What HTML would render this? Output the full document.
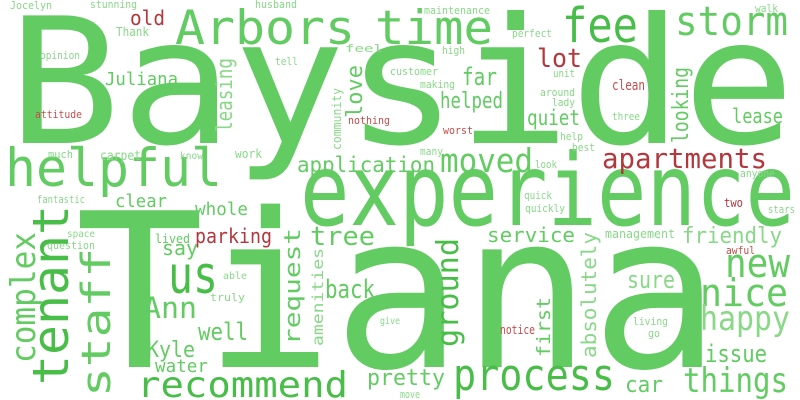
<!DOCTYPE html>
<html><head><meta charset="utf-8">
<style>
html,body{margin:0;padding:0;background:#fff;}
svg{display:block;}
text{font-family:"DejaVu Sans Mono","Liberation Mono",monospace;}
</style></head>
<body>
<svg id="cloud" width="800" height="400" viewBox="0 0 800 400" xmlns="http://www.w3.org/2000/svg">
<rect width="800" height="400" fill="#ffffff"/>
</svg>
<script>
// word cloud data: words and their font sizes (weight)
const words = ["Bayside","Tiana","experience","Arbors","time","fee","storm","helpful","tenant","complex","staff","us","Ann","Juliana","old","Thank","Jocelyn","stunning","husband","opinion","attitude","leasing","love","community","feel","tell","customer","nothing","much","carpet","know","work","application","fantastic","clear","moved","apartments","lot","far","helped","quiet","looking","lease","clean","maintenance","perfect","high","unit","making","around","lady","three","worst","help","best","many","look","walk","anyone","quick","quickly","two","stars","service","management","friendly","awful","new","nice","happy","issue","things","sure","ground","first","absolutely","living","go","notice","process","car","move","pretty","recommend","parking","whole","lived","say","tree","request","amenities","back","space","question","able","truly","give","well","Kyle","water"];
const sizes = [175,215,100,47,47,48,40,53,50,34,40,52,29,18,20,12,11,11,11,11,11,22,22,12,11,11,11,11,11,13,10,12,21,11,18,33,28,26,24,22,21,22,20,14,11,11,11,11,11,11,11,11,11,11,11,11,11,11,11,11,11,12,11,20,12,22,11,40,38,34,24,34,24,30,19,20,11,11,12,44,22,11,22,36,20,18,12,20,26,22,15,26,10,11,10,11,10,24,22,18];
// layout: [x, baselineY, width, rotated(0/1), colorIndex]
const layout = [
[8,143,787,0,0],[75,367,645,0,0],[300,225,495,0,0],[175,44,180,0,0],[375,44,118,0,0],[562,42,76,0,1],[675,35,113,0,0],[5,186,217,0,0],[68,385,180,1,1],[35,363,131,1,0],[110,397,149,1,0],[168,293,50,0,1],[143,318,54,0,0],[105,85,73,0,0],[130,25,35,0,3],[116,36,33,0,2],[10,9,42,0,2],[90,8,47,0,2],[255,8,42,0,2],[40,59,40,0,2],[35,118,47,0,4],[232,132,74,1,2],[362,118,53,1,0],[341,150,62,1,2],[345,52,38,0,2],[275,65,23,0,2],[390,75,48,0,2],[348,124,42,0,4],[48,158,25,0,2],[100,160,41,0,2],[180,159,23,0,2],[235,158,27,0,2],[297,172,138,0,0],[37,203,48,0,2],[115,207,52,0,0],[440,172,93,0,0],[602,168,165,0,3],[537,67,45,0,3],[462,85,35,0,0],[440,108,63,0,0],[527,125,53,0,0],[688,143,76,1,0],[732,123,51,0,0],[612,90,33,0,4],[424,14,66,0,2],[512,37,40,0,2],[442,54,23,0,2],[553,77,22,0,2],[420,88,35,0,2],[540,96,35,0,2],[552,106,23,0,2],[612,120,28,0,2],[443,134,30,0,4],[560,140,23,0,2],[572,151,23,0,2],[420,155,23,0,2],[535,168,22,0,2],[755,12,23,0,2],[740,177,35,0,2],[524,199,28,0,2],
[525,212,40,0,2],[724,207,19,0,3],[768,213,27,0,2],[487,242,88,0,0],[605,238,70,0,2],[682,243,100,0,2],[726,254,29,0,4],[725,277,65,0,0],[700,306,88,0,0],[700,330,90,0,2],[705,362,62,0,0],[683,392,105,0,0],[627,288,48,0,2],[458,347,109,1,1],[550,357,60,1,0],[596,358,126,1,2],[633,325,35,0,2],[648,337,12,0,2],[500,334,35,0,4],[453,390,162,0,1],[625,392,38,0,0],[400,398,20,0,2],[367,385,78,0,0],[137,397,211,0,1],[195,243,77,0,3],[195,215,53,0,0],[155,243,35,0,0],[162,255,36,0,0],[310,245,65,0,0],[300,345,117,1,0],[323,346,98,1,2],[325,298,50,0,0],[67,237,28,0,2],[47,249,48,0,2],[223,279,24,0,2],[210,301,35,0,2],[380,324,20,0,2],[198,340,50,0,0],[147,357,48,0,0],[155,372,53,0,0]
];
const palette = ["#62cb62","#48bd48","#88d888","#b3383d","#c44d4d"];
const svg = document.getElementById('cloud');
const NS = "http://www.w3.org/2000/svg";
for (let i = 0; i < words.length; i++) {
  const L = layout[i];
  const t = document.createElementNS(NS, 'text');
  
  
  t.setAttribute('font-size', sizes[i]);
  t.setAttribute('fill', palette[L[4]]);
  t.setAttribute('textLength', L[2]);
  t.setAttribute('lengthAdjust', 'spacingAndGlyphs');
  if (L[3]) {
    t.setAttribute('x', 0);
    t.setAttribute('y', 0);
    t.setAttribute('transform', 'translate(' + L[0] + ',' + L[1] + ') rotate(-90)');
  } else {
    t.setAttribute('x', L[0]);
    t.setAttribute('y', L[1]);
  }
  t.textContent = words[i];
  svg.appendChild(t);
}
</script>
</body></html>
